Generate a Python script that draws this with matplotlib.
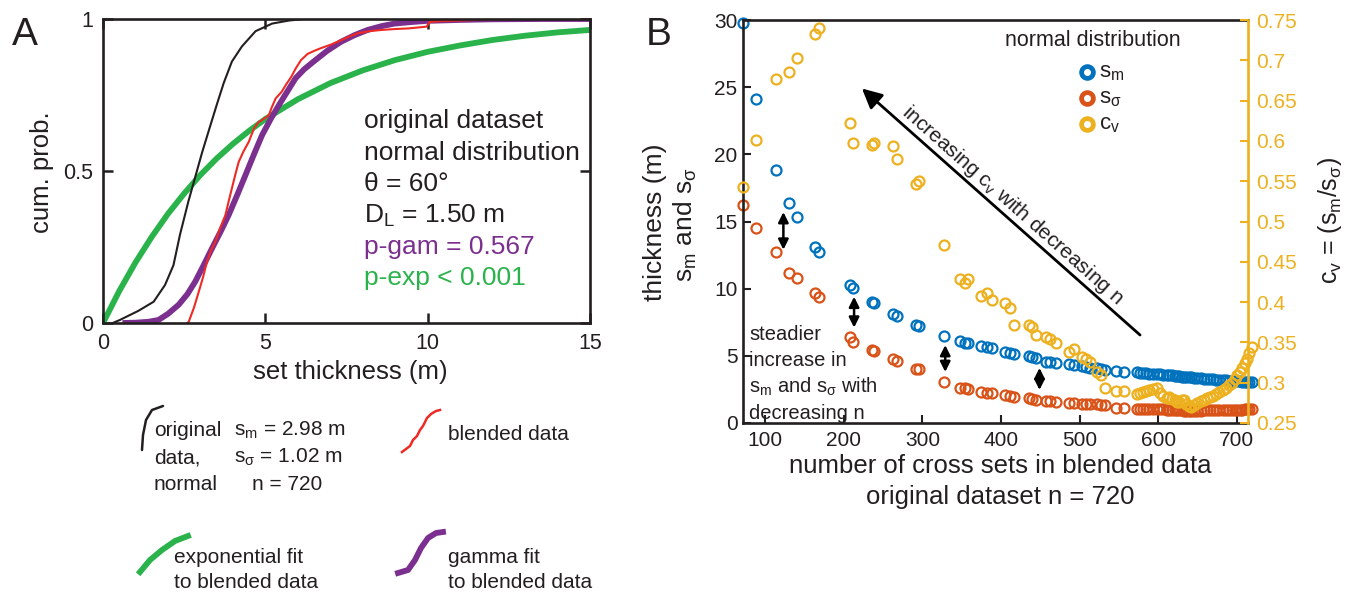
import matplotlib
matplotlib.use("Agg")
import matplotlib.pyplot as plt

plt.rcParams['font.family'] = ['Liberation Sans', 'DejaVu Sans']
plt.rcParams['mathtext.default'] = 'regular'

INK = '#231F20'
RED_A = '#EE2A24'
GREEN = '#2BB34B'
PURPLE = '#7B2F8E'
BLUE = '#0072BD'
ORANGE = '#D95319'
YELLOW = '#EDB120'

# ---- panel A: cumulative curves ----
orig_x = [0.3, 0.52, 1.09, 1.56, 1.91, 2.17, 2.37, 2.63, 2.84, 3.05, 3.25, 3.51,
          3.72, 3.97, 4.28, 4.70, 5.21, 5.73, 6.2, 15.0]
orig_y = [0.0, 0.01, 0.04, 0.07, 0.125, 0.19, 0.29, 0.40, 0.48, 0.56, 0.63, 0.72,
          0.79, 0.86, 0.91, 0.96, 0.985, 0.995, 1.0, 1.0]

blend_x = [2.6, 2.64, 2.8, 2.95, 3.08, 3.20, 3.33, 3.46, 3.6, 3.77, 3.87, 3.97, 4.08,
           4.18, 4.33, 4.49, 4.65, 4.80, 4.86, 5.0, 5.11, 5.2, 5.32, 5.5, 5.63, 5.8,
           5.94, 6.10, 6.30, 6.5, 6.71, 7.0, 7.33, 7.6, 7.85, 8.2, 8.58, 9.0, 9.40,
           9.7, 9.97, 10.06, 10.4, 11.0, 11.5, 12.2, 13.0, 15.0]
blend_y = [0.0, 0.004, 0.05, 0.103, 0.15, 0.20, 0.24, 0.267, 0.31, 0.355, 0.40, 0.443,
           0.49, 0.53, 0.565, 0.596, 0.64, 0.662, 0.665, 0.675, 0.684, 0.71, 0.739,
           0.76, 0.783, 0.81, 0.838, 0.865, 0.885, 0.895, 0.904, 0.915, 0.93, 0.943,
           0.953, 0.96, 0.964, 0.967, 0.969, 0.972, 0.975, 0.99, 0.993, 0.995, 0.997,
           0.999, 1.0, 1.0]

exp_x = [0, 0.5, 1, 1.5, 2, 2.5, 3, 3.5, 4, 4.5, 5, 6, 7, 8, 9, 10, 11, 12, 13, 14, 15]
exp_y = [0, 0.105, 0.199, 0.283, 0.359, 0.426, 0.487, 0.541, 0.589, 0.632, 0.671,
         0.736, 0.789, 0.831, 0.865, 0.892, 0.913, 0.931, 0.945, 0.956, 0.964]

gam_x = [0.6, 1.0, 1.4, 1.71, 2.0, 2.33, 2.6, 2.84, 3.1, 3.36, 3.62, 3.87, 4.13, 4.39,
         4.65, 4.90, 5.16, 5.42, 5.68, 5.93, 6.2, 6.51, 6.9, 7.33, 7.75, 8.15, 8.6,
         8.98, 9.5, 10.0, 11.0, 12.0, 13.5, 15.0]
gam_y = [0, 0.001, 0.004, 0.01, 0.03, 0.06, 0.095, 0.136, 0.19, 0.246, 0.30, 0.355,
         0.42, 0.487, 0.555, 0.618, 0.67, 0.717, 0.762, 0.805, 0.835, 0.862, 0.895,
         0.925, 0.947, 0.964, 0.977, 0.985, 0.99, 0.994, 0.997, 0.999, 1.0, 1.0]

# ---- panel B: statistics vs number of cross sets ----
n_sets = [72, 88, 114, 130, 140, 163, 168, 208, 212, 236, 238, 263, 268, 292, 295,
          327, 348, 354, 358, 375, 382, 388, 405, 412, 417, 436, 440, 445, 457, 463,
          470, 487, 493, 503, 508, 513, 522, 527, 533, 546, 556,
          573, 577, 581, 585, 589, 594, 598, 602, 606, 611, 614, 618, 621, 624, 627,
          630, 633, 636, 639, 642, 646, 650, 654, 658, 662, 666, 670, 674, 678, 682,
          686, 690, 694, 698, 701, 704, 707, 710, 713, 716, 719]
s_m = [29.8, 24.1, 18.8, 16.4, 15.3, 13.1, 12.7, 10.3, 10.05, 9.0, 8.9, 8.1, 7.95, 7.3,
       7.2, 6.48, 6.1, 5.95, 5.95, 5.73, 5.66, 5.58, 5.29, 5.21, 5.14, 4.99, 4.91, 4.84,
       4.54, 4.54, 4.47, 4.39, 4.32, 4.24, 4.17, 4.10, 4.10, 4.02, 3.95, 3.87, 3.80,
       3.76, 3.74, 3.72, 3.70, 3.68, 3.66, 3.64, 3.62, 3.60, 3.58, 3.56, 3.54, 3.52,
       3.50, 3.48, 3.46, 3.45, 3.43, 3.41, 3.39, 3.37, 3.35, 3.33, 3.31, 3.29, 3.27,
       3.25, 3.23, 3.21, 3.19, 3.17, 3.15, 3.13, 3.11, 3.10, 3.09, 3.08, 3.07, 3.06,
       3.05, 3.05]
s_sig = [16.2, 14.5, 12.7, 11.2, 10.8, 9.7, 9.4, 6.4, 6.0, 5.4, 5.35, 4.8, 4.6, 4.0,
         4.0, 3.05, 2.6, 2.6, 2.53, 2.31, 2.23, 2.23, 2.08, 2.01, 1.94, 1.86, 1.79,
         1.71, 1.64, 1.64, 1.56, 1.49, 1.49, 1.45, 1.45, 1.40, 1.40, 1.34, 1.34, 1.12,
         1.12, 1.06, 1.05, 1.05, 1.04, 1.04, 1.03, 1.03, 1.02, 1.01, 1.00, 0.99, 0.98,
         0.97, 0.96, 0.95, 0.94, 0.93, 0.92, 0.92, 0.91, 0.92, 0.93, 0.93, 0.94, 0.94,
         0.95, 0.95, 0.96, 0.96, 0.97, 0.97, 0.98, 0.98, 0.99, 0.99, 1.00, 1.00, 1.01,
         1.02, 1.03, 1.04]
c_v = [0.543, 0.601, 0.677, 0.685, 0.703, 0.733, 0.740, 0.622, 0.597, 0.595, 0.597,
       0.594, 0.578, 0.547, 0.550, 0.471, 0.429, 0.424, 0.429, 0.408, 0.411, 0.403,
       0.399, 0.393, 0.372, 0.372, 0.369, 0.359, 0.357, 0.354, 0.349, 0.338, 0.342,
       0.332, 0.329, 0.326, 0.313, 0.310, 0.293, 0.290, 0.290,
       0.286, 0.287, 0.288, 0.290, 0.291, 0.292, 0.293, 0.287, 0.284, 0.281, 0.282,
       0.280, 0.279, 0.276, 0.276, 0.278, 0.279, 0.274, 0.271, 0.270, 0.272, 0.275,
       0.277, 0.279, 0.281, 0.282, 0.284, 0.286, 0.289, 0.291, 0.294, 0.297, 0.300,
       0.305, 0.309, 0.313, 0.318, 0.324, 0.330, 0.337, 0.344]

W, H = 1348, 596
fig = plt.figure(figsize=(W / 100, H / 100), dpi=100)


def frac(l, t, r, b):
    return [l / W, (H - b) / H, (r - l) / W, (b - t) / H]


# ================= panel A =================
axA = fig.add_axes(frac(103, 19, 590, 323))
axA.plot(exp_x, exp_y, color=GREEN, lw=4.2, solid_capstyle='butt')
axA.plot(orig_x, orig_y, color=INK, lw=1.5)
axA.plot(gam_x, gam_y, color=PURPLE, lw=4.2, solid_capstyle='butt')
axA.plot(blend_x, blend_y, color=RED_A, lw=1.5)
axA.set_xlim(0, 15)
axA.set_ylim(0, 1)
axA.set_xticks([0, 5, 10, 15])
axA.set_yticks([0, 0.5, 1])
axA.set_yticklabels(['0', '0.5', '1'])
axA.tick_params(direction='in', length=7, width=1.8, top=True, right=True,
                labelsize=15.5, pad=7, colors=INK)
for s in axA.spines.values():
    s.set_linewidth(1.9)
    s.set_color(INK)

# ================= panel B =================
axB = fig.add_axes(frac(743, 20, 1248, 423))
mk = dict(linestyle='none', marker='o', mfc='none', ms=7.2, mew=1.6)
axB.plot(n_sets, s_m, mec=BLUE, **mk, clip_on=False)
axB.plot(n_sets, s_sig, mec=ORANGE, **mk, clip_on=False)
axB.set_xlim(71.6, 714.4)
axB.set_ylim(0, 30)
axB.set_xticks([100, 200, 300, 400, 500, 600, 700])
axB.set_yticks([0, 5, 10, 15, 20, 25, 30])
axB.tick_params(direction='in', length=6, width=1.5, labelsize=15, pad=4, colors=INK)
axB.tick_params(axis='x', pad=6)
axB.spines['right'].set_visible(False)
for k in ['left', 'top', 'bottom']:
    axB.spines[k].set_linewidth(1.9)
    axB.spines[k].set_color(INK)

ax2 = axB.twinx()
ax2.plot(n_sets, c_v, mec=YELLOW, **mk, clip_on=False)
ax2.set_ylim(0.25, 0.75)
ax2.set_yticks([0.25, 0.3, 0.35, 0.4, 0.45, 0.5, 0.55, 0.6, 0.65, 0.7, 0.75])
ax2.set_yticklabels(['0.25', '0.3', '0.35', '0.4', '0.45', '0.5', '0.55', '0.6',
                     '0.65', '0.7', '0.75'])
ax2.tick_params(direction='in', length=6, width=1.5, labelsize=15, pad=6,
                colors=YELLOW)
for k in ['left', 'top', 'bottom']:
    ax2.spines[k].set_visible(False)
ax2.spines['right'].set_color(YELLOW)
ax2.spines['right'].set_linewidth(1.9)

# arrows in panel B
ax2.annotate('', xy=(223, 0.25 + 24.9 / 60), xytext=(577, 0.25 + 6.55 / 60),
             arrowprops=dict(arrowstyle='-|>', color='black', lw=2,
                             mutation_scale=30, shrinkA=0, shrinkB=0))
for nx, y_top, y_bot in [(123, 15.7, 12.9), (213, 9.4, 7.1), (329, 5.8, 3.8),
                         (449, 4.1, 2.46)]:
    axB.annotate('', xy=(nx, y_top), xytext=(nx, y_bot),
                 arrowprops=dict(arrowstyle='<|-|>', color='black', lw=1.8,
                                 mutation_scale=15, shrinkA=0, shrinkB=0))

# ================= overlay for free text =================
ov = fig.add_axes([0, 0, 1, 1])
ov.set_xlim(0, W)
ov.set_ylim(H, 0)
ov.axis('off')

ov.text(12, 35, 'A', fontsize=28, color=INK, va='center')
ov.text(646, 35, 'B', fontsize=28, color=INK, va='center')

# panel A labels
ov.text(42, 172, 'cum. prob.', rotation=90, fontsize=18.5, color=INK,
        ha='center', va='center')
ov.text(350, 372, 'set thickness (m)', fontsize=18.5, color=INK, ha='center', va='center')
a_lines = [('original dataset', INK), ('normal distribution', INK),
           ('θ = 60°', INK), ('D$_\\mathregular{L}$ = 1.50 m', INK),
           ('p-gam = 0.567', PURPLE), ('p-exp < 0.001', GREEN)]
for i, (txt, col) in enumerate(a_lines):
    ov.text(364, 128 + i * 31.5, txt, fontsize=19, color=col, va='baseline')

# panel A legend
ov.plot([142, 143, 146, 152, 163], [450, 435, 420, 410, 406], color=INK, lw=1.8,
        solid_capstyle='round')
ov.text(154, 436, 'original', fontsize=15, color=INK, va='baseline')
ov.text(154, 463, 'data,', fontsize=15, color=INK, va='baseline')
ov.text(154, 490, 'normal', fontsize=15, color=INK, va='baseline')
ov.text(234, 436, 's$_\\mathregular{m}$ = 2.98 m', fontsize=15, color=INK, va='baseline')
ov.text(234, 463, 's$_\\mathregular{σ}$ = 1.02 m', fontsize=15, color=INK, va='baseline')
ov.text(252, 490, 'n = 720', fontsize=15, color=INK, va='baseline')

ov.plot([402, 406, 410, 413, 417, 420, 423, 427, 431, 436, 440],
        [452, 449, 446, 440, 436, 430, 426, 418, 414, 411, 410], color=RED_A, lw=1.8)
ov.text(448, 440, 'blended data', fontsize=15, color=INK, va='baseline')

ov.plot([140, 150, 162, 175, 188], [572, 560, 550, 541, 536], color=GREEN, lw=4.2)
ov.text(174, 563, 'exponential fit', fontsize=15, color=INK, va='baseline')
ov.text(174, 588, 'to blended data', fontsize=15, color=INK, va='baseline')

ov.plot([398, 408, 415, 421, 428, 436, 443], [573, 570, 560, 548, 538, 533, 532],
        color=PURPLE, lw=4.2)
ov.text(448, 563, 'gamma fit', fontsize=15, color=INK, va='baseline')
ov.text(448, 588, 'to blended data', fontsize=15, color=INK, va='baseline')

# panel B labels
ov.text(655, 222, 'thickness (m)', rotation=90, fontsize=19, color=INK,
        ha='center', va='center')
ov.text(685, 225, 's$_\\mathregular{m}$ and s$_\\mathregular{σ}$', rotation=90,
        fontsize=19, color=INK, ha='center', va='center')
ov.text(1330, 220, 'c$_\\mathregular{v}$ = (s$_\\mathregular{m}$/s$_\\mathregular{σ}$)',
        rotation=90, fontsize=18, color=INK, ha='center', va='center')
ov.text(1000, 466, 'number of cross sets in blended data', fontsize=18.5, color=INK,
        ha='center', va='center')
ov.text(1000, 497, 'original dataset n = 720', fontsize=18.5, color=INK,
        ha='center', va='center')

ov.text(1093, 40, 'normal distribution', fontsize=15.5, color=INK, ha='center',
        va='center')
for i, (lab, col) in enumerate([('s$_\\mathregular{m}$', BLUE),
                                 ('s$_\\mathregular{σ}$', ORANGE),
                                 ('c$_\\mathregular{v}$', YELLOW)]):
    y = 72 + i * 26
    ov.plot([1087], [y], marker='o', ms=8.5, mfc='white', mec=col, mew=3.4)
    ov.text(1099, y + 5, lab, fontsize=16, color=INK, va='baseline')

ov.text(1012, 205, 'increasing c$_\\mathregular{v}$ with decreasing n', rotation=-41.6,
        rotation_mode='anchor', fontsize=15, color=INK, ha='center', va='center')

for i, txt in enumerate(['steadier', 'increase in',
                         's$_\\mathregular{m}$ and s$_\\mathregular{σ}$ with',
                         'decreasing n']):
    ov.text(749, 340 + i * 26.3, txt, fontsize=14.5, color=INK, va='baseline')

fig.savefig('out.png', dpi=100)
